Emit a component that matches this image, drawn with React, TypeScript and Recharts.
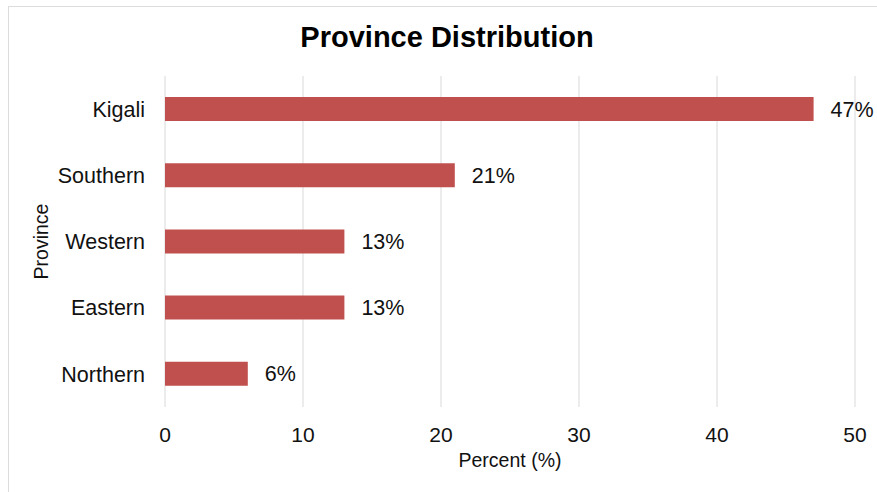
import { BarChart, Bar, XAxis, YAxis, CartesianGrid, LabelList } from "recharts";

const provinces = ["Kigali", "Southern", "Western", "Eastern", "Northern"];
const percents = [47, 21, 13, 13, 6];
const xTicks = [0, 10, 20, 30, 40, 50];

const data = provinces.map((name, i) => ({ name, pct: percents[i] }));

const FONT = "Arial, 'Liberation Sans', Helvetica, sans-serif";

// rotated y-axis title, centred on the plot height
const ProvinceLabel = ({ viewBox }: any) => {
  const cx = 41;
  const cy = viewBox.y + viewBox.height / 2;
  return (
    <text
      x={cx}
      y={cy}
      transform={`rotate(-90, ${cx}, ${cy})`}
      textAnchor="middle"
      dominantBaseline="central"
      fontSize={19.5}
      fill="#111"
      fontFamily={FONT}
    >
      Province
    </text>
  );
};

export default function App() {
  return (
    <div style={{ position: "fixed", left: 0, top: 0, width: 877, height: 492, background: "#fff" }}>
      <div
        style={{
          position: "absolute",
          left: 8,
          top: 6,
          right: -4,
          bottom: -4,
          border: "1px solid #dcdcdc",
        }}
      />
      <div
        style={{
          position: "absolute",
          left: 0,
          top: 21,
          width: 894,
          textAlign: "center",
          fontFamily: FONT,
          fontWeight: 700,
          fontSize: 29,
          color: "#000",
        }}
      >
        Province Distribution
      </div>
      <div style={{ position: "absolute", left: 0, top: 0 }}>
        <BarChart
          width={877}
          height={492}
          data={data}
          layout="vertical"
          margin={{ top: 76, right: 22, bottom: 45, left: 0 }}
        >
          <CartesianGrid horizontal={false} stroke="#d9d9d9" />
          <XAxis
            type="number"
            domain={[0, 50]}
            ticks={xTicks}
            axisLine={false}
            tickLine={false}
            tickSize={0}
            tickMargin={20}
            height={40}
            tick={{ fontSize: 21, fill: "#111", fontFamily: FONT }}
            label={{
              value: "Percent (%)",
              position: "bottom",
              offset: 6,
              fontSize: 19.5,
              fill: "#111",
              fontFamily: FONT,
            }}
          />
          <YAxis
            type="category"
            dataKey="name"
            width={165}
            axisLine={false}
            tickLine={false}
            tickSize={0}
            tickMargin={20}
            tick={{ fontSize: 21.5, fill: "#111", fontFamily: FONT }}
            label={<ProvinceLabel />}
          />
          <Bar dataKey="pct" fill="#c0504d" barSize={24} isAnimationActive={false}>
            <LabelList
              dataKey="pct"
              position="right"
              offset={17}
              formatter={(v: any) => `${v}%`}
              style={{ fontSize: 21.5, fill: "#111", fontFamily: FONT }}
            />
          </Bar>
        </BarChart>
      </div>
    </div>
  );
}
